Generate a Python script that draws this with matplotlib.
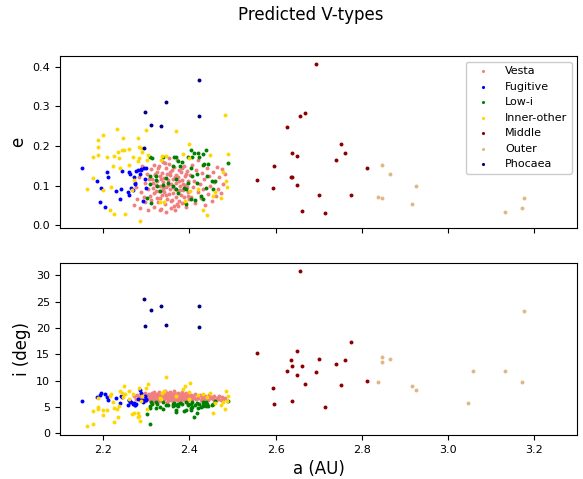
import numpy as np
import matplotlib
matplotlib.use('Agg')
import matplotlib.pyplot as plt

# semi-major axis a (AU), eccentricity e, inclination i (deg) for each group

vesta_a = [2.272, 2.276, 2.279, 2.283, 2.286, 2.289, 2.291, 2.294, 2.296, 2.298, 2.301, 2.303, 2.305, 2.307, 2.309,
           2.311, 2.312, 2.314, 2.315, 2.317, 2.318, 2.319, 2.321, 2.322, 2.324, 2.325, 2.326, 2.328, 2.329, 2.330,
           2.332, 2.333, 2.334, 2.336, 2.337, 2.338, 2.340, 2.341, 2.342, 2.344, 2.345, 2.346, 2.348, 2.349, 2.350,
           2.352, 2.353, 2.354, 2.356, 2.357, 2.358, 2.360, 2.361, 2.362, 2.364, 2.365, 2.366, 2.368, 2.369, 2.370,
           2.372, 2.373, 2.374, 2.376, 2.377, 2.378, 2.380, 2.381, 2.382, 2.384, 2.385, 2.387, 2.388, 2.390, 2.391,
           2.393, 2.394, 2.396, 2.397, 2.399,
           2.316, 2.320, 2.323, 2.327, 2.331, 2.335, 2.339, 2.343, 2.347, 2.351, 2.355, 2.359, 2.363, 2.367, 2.371,
           2.375, 2.379, 2.383, 2.386, 2.389, 2.392, 2.395, 2.398, 2.331, 2.345, 2.352, 2.358, 2.366, 2.374, 2.340,
           2.401, 2.404, 2.406, 2.409, 2.411, 2.414, 2.416, 2.419, 2.421, 2.424, 2.426, 2.429, 2.431, 2.434, 2.437,
           2.440, 2.443, 2.446, 2.449, 2.452, 2.455, 2.458, 2.461, 2.464, 2.467, 2.470, 2.473, 2.476, 2.479, 2.483]
vesta_e = [0.052, 0.098, 0.066, 0.122, 0.045, 0.085, 0.150, 0.072, 0.108, 0.058, 0.130, 0.092, 0.040, 0.118, 0.075,
           0.142, 0.064, 0.118, 0.095, 0.152, 0.081, 0.047, 0.128, 0.103, 0.070, 0.136, 0.112, 0.058, 0.149, 0.088,
           0.124, 0.099, 0.042, 0.133, 0.076, 0.161, 0.109, 0.084, 0.120, 0.053, 0.145, 0.097, 0.068, 0.131, 0.114,
           0.079, 0.156, 0.091, 0.126, 0.061, 0.105, 0.139, 0.083, 0.117, 0.050, 0.147, 0.093, 0.127, 0.072, 0.108,
           0.165, 0.087, 0.121, 0.062, 0.140, 0.100, 0.078, 0.134, 0.056, 0.115, 0.090, 0.150, 0.073, 0.125, 0.101,
           0.046, 0.137, 0.085, 0.111, 0.066,
           0.107, 0.130, 0.086, 0.144, 0.069, 0.116, 0.094, 0.158, 0.077, 0.102, 0.135, 0.065, 0.098, 0.122, 0.054,
           0.113, 0.089, 0.146, 0.104, 0.060, 0.129, 0.096, 0.074, 0.039, 0.035, 0.170, 0.044, 0.038, 0.048, 0.089,
           0.128, 0.071, 0.152, 0.096, 0.113, 0.057, 0.140, 0.085, 0.164, 0.104, 0.069, 0.133, 0.092, 0.117, 0.051,
           0.145, 0.080, 0.125, 0.099, 0.061, 0.136, 0.110, 0.074, 0.148, 0.093, 0.121, 0.083, 0.142, 0.105, 0.131]
vesta_i = [7.0, 6.6, 7.3, 6.9, 6.4, 7.5, 6.8, 7.1, 6.2, 7.7, 6.5, 7.2, 6.9, 7.4, 6.3,
           7.1, 6.5, 7.6, 6.9, 7.3, 6.2, 7.8, 6.7, 7.0, 6.4, 7.5, 6.8, 7.2, 6.1, 7.9,
           6.6, 7.4, 6.9, 7.0, 6.3, 7.7, 6.8, 7.1, 6.5, 8.1, 6.9, 7.3, 6.0, 7.6, 6.7,
           7.2, 6.4, 7.8, 6.9, 7.0, 6.6, 7.5, 6.2, 7.3, 6.8, 8.0, 6.5, 7.1, 6.9, 7.4,
           6.3, 7.7, 6.7, 7.0, 6.6, 7.5, 6.1, 7.2, 6.8, 7.9, 6.5, 7.1, 6.9, 7.4, 6.4,
           7.6, 6.7, 7.0, 6.3, 7.3,
           6.8, 7.2, 6.6, 7.4, 7.0, 6.9, 7.3, 6.7, 7.1, 6.5, 7.6, 6.9, 7.2, 6.8, 7.5,
           6.6, 7.0, 7.3, 6.7, 7.1, 6.9, 7.4, 6.6, 6.8, 7.0, 7.7, 6.4, 7.2, 6.9, 7.0,
           6.9, 7.3, 6.6, 7.1, 6.8, 7.4, 6.5, 7.0, 6.7, 7.2, 6.4, 6.9, 7.1, 6.6, 7.0,
           6.8, 6.3, 7.2, 6.7, 6.9, 6.5, 7.0, 6.4, 6.8, 6.6, 7.1, 6.3, 6.9, 6.5, 6.7]

fugitive_a = [2.152, 2.186, 2.192, 2.194, 2.205, 2.210, 2.212, 2.229, 2.239, 2.242,
              2.243, 2.257, 2.259, 2.261, 2.262, 2.265, 2.269, 2.271, 2.274, 2.274,
              2.277, 2.281, 2.285, 2.287, 2.289, 2.293, 2.294, 2.297, 2.300, 2.300]
fugitive_e = [0.144, 0.112, 0.059, 0.094, 0.046, 0.134, 0.123, 0.087, 0.068, 0.093,
              0.137, 0.085, 0.134, 0.077, 0.131, 0.094, 0.089, 0.123, 0.106, 0.104,
              0.137, 0.140, 0.130, 0.140, 0.142, 0.061, 0.145, 0.118, 0.145, 0.094]
fugitive_i = [6.1, 6.9, 7.2, 7.7, 7.4, 6.9, 6.4, 6.8, 5.8, 7.0,
              6.9, 5.4, 6.3, 6.4, 6.0, 5.9, 5.6, 5.8, 5.4, 5.3,
              5.6, 6.5, 8.3, 7.7, 6.4, 5.9, 6.3, 7.0, 6.3, 6.6]

lowi_a = [2.302, 2.308, 2.308, 2.308, 2.312, 2.313, 2.322, 2.323, 2.326, 2.332,
          2.338, 2.338, 2.347, 2.351, 2.362, 2.362, 2.364, 2.369, 2.370, 2.370,
          2.373, 2.374, 2.378, 2.382, 2.387, 2.393, 2.393, 2.396, 2.397, 2.403,
          2.405, 2.405, 2.407, 2.407, 2.411, 2.413, 2.417, 2.417, 2.419, 2.422,
          2.428, 2.431, 2.431, 2.432, 2.434, 2.438, 2.438, 2.441, 2.444, 2.452,
          2.454, 2.459, 2.489]
lowi_e = [0.069, 0.172, 0.104, 0.125, 0.057, 0.169, 0.114, 0.124, 0.100, 0.087,
          0.173, 0.101, 0.119, 0.107, 0.100, 0.149, 0.173, 0.117, 0.172, 0.091,
          0.083, 0.163, 0.149, 0.159, 0.094, 0.093, 0.053, 0.172, 0.108, 0.190,
          0.066, 0.146, 0.172, 0.125, 0.182, 0.063, 0.107, 0.129, 0.183, 0.172,
          0.074, 0.180, 0.152, 0.066, 0.156, 0.189, 0.095, 0.125, 0.155, 0.111,
          0.091, 0.111, 0.157]
lowi_i = [3.6, 4.9, 5.15, 1.75, 5.9, 5.66, 5.9, 4.9, 5.66, 5.0,
          4.7, 5.9, 5.4, 5.4, 5.15, 5.66, 5.8, 4.1, 5.4, 4.4,
          5.66, 5.15, 5.8, 5.5, 4.3, 4.5, 5.9, 5.4, 5.66, 4.9,
          4.4, 5.66, 5.9, 5.0, 3.1, 5.4, 5.8, 3.8, 4.9, 5.66,
          5.0, 5.15, 5.4, 5.9, 5.8, 5.15, 5.9, 5.5, 5.15, 5.4,
          5.66, 6.2, 6.1]

inner_a = [2.163, 2.176, 2.177, 2.187, 2.188, 2.189, 2.200, 2.200, 2.208, 2.217,
           2.218, 2.223, 2.225, 2.226, 2.233, 2.235, 2.237, 2.239, 2.244, 2.246,
           2.248, 2.251, 2.259, 2.259, 2.268, 2.269, 2.271, 2.280, 2.281, 2.283,
           2.284, 2.285, 2.287, 2.290, 2.300, 2.302, 2.304, 2.332, 2.335, 2.337,
           2.341, 2.347, 2.369, 2.386, 2.390, 2.399, 2.400, 2.401, 2.419, 2.432,
           2.440, 2.447, 2.454, 2.459, 2.473, 2.478, 2.482, 2.486, 2.488, 2.489]
inner_e = [0.093, 0.173, 0.119, 0.197, 0.216, 0.178, 0.227, 0.089, 0.173, 0.038,
           0.098, 0.150, 0.028, 0.176, 0.244, 0.184, 0.170, 0.145, 0.189, 0.221,
           0.190, 0.030, 0.192, 0.152, 0.090, 0.173, 0.114, 0.221, 0.162, 0.197,
           0.170, 0.011, 0.196, 0.184, 0.241, 0.165, 0.178, 0.059, 0.166, 0.175,
           0.058, 0.175, 0.239, 0.180, 0.062, 0.170, 0.206, 0.087, 0.091, 0.040,
           0.026, 0.178, 0.074, 0.085, 0.069, 0.136, 0.278, 0.112, 0.098, 0.180]
inner_i = [1.4, 4.2, 1.7, 5.0, 6.7, 4.6, 4.5, 3.4, 4.5, 7.1,
           7.4, 6.0, 4.8, 2.1, 4.6, 3.1, 5.2, 8.0, 7.7, 6.9,
           9.0, 7.5, 6.5, 8.0, 3.7, 7.5, 3.8, 3.9, 3.1, 8.7,
           3.3, 2.4, 6.2, 7.0, 8.6, 4.6, 9.4, 6.8, 6.5, 7.7,
           8.0, 10.7, 7.0, 8.5, 8.9, 6.6, 7.8, 9.5, 7.3, 7.5,
           6.9, 7.7, 3.9, 5.7, 5.4, 6.0, 4.6, 8.0, 6.2, 7.0]

middle_a = [2.693, 2.656, 2.669, 2.627, 2.751, 2.741, 2.761, 2.639, 2.650, 2.597,
            2.557, 2.636, 2.639, 2.650, 2.594, 2.700, 2.813, 2.776, 2.662, 2.714]
middle_e = [0.408, 0.276, 0.283, 0.249, 0.206, 0.165, 0.183, 0.183, 0.174, 0.149,
            0.114, 0.122, 0.122, 0.101, 0.095, 0.077, 0.145, 0.077, 0.037, 0.032]
middle_i = [11.6, 30.8, 9.4, 11.9, 9.2, 13.1, 14.0, 12.7, 15.7, 5.5,
            15.2, 14.0, 6.2, 11.0, 8.7, 14.1, 10.0, 17.4, 12.7, 5.0]

outer_a = [2.847, 2.847, 2.866, 2.925, 2.837, 2.917, 3.177, 3.171, 3.133, 3.047, 3.059]
outer_e = [0.152, 0.069, 0.129, 0.099, 0.072, 0.054, 0.069, 0.045, 0.035, 0.215, 0.245]
outer_i = [14.5, 13.5, 14.1, 8.2, 9.7, 9.0, 23.3, 9.7, 11.9, 5.8, 11.8]

phocaea_a = [2.294, 2.296, 2.311, 2.335, 2.345, 2.422, 2.422]
phocaea_e = [0.195, 0.287, 0.253, 0.251, 0.312, 0.366, 0.276]
phocaea_i = [25.6, 20.4, 23.4, 24.1, 20.5, 24.2, 20.1]

groups = [
    ('Vesta', 'lightcoral', vesta_a, vesta_e, vesta_i),
    ('Fugitive', 'blue', fugitive_a, fugitive_e, fugitive_i),
    ('Low-i', 'green', lowi_a, lowi_e, lowi_i),
    ('Inner-other', 'gold', inner_a, inner_e, inner_i),
    ('Middle', 'darkred', middle_a, middle_e, middle_i),
    ('Outer', 'burlywood', outer_a, outer_e, outer_i),
    ('Phocaea', 'navy', phocaea_a, phocaea_e, phocaea_i),
]

fig, (ax1, ax2) = plt.subplots(2, 1, sharex=True, figsize=(5.83, 4.79), dpi=100)
fig.subplots_adjust(left=0.103, right=0.99, top=0.883, bottom=0.092, hspace=0.2)

for name, col, a, e, inc in groups:
    ax1.scatter(a, e, s=8, c=col, linewidths=0, label=name)
    ax2.scatter(a, inc, s=8, c=col, linewidths=0)

ax1.set_ylabel('e', fontsize=12)
ax2.set_ylabel('i (deg)', fontsize=12)
ax2.set_xlabel('a (AU)', fontsize=12)

ax1.set_xlim(2.1, 3.3)
ax1.set_ylim(-0.007, 0.427)
ax2.set_ylim(-0.3, 32.4)
ax2.set_xticks([2.2, 2.4, 2.6, 2.8, 3.0, 3.2])
ax1.set_yticks([0.0, 0.1, 0.2, 0.3, 0.4])
ax2.set_yticks([0, 5, 10, 15, 20, 25, 30])
for ax in (ax1, ax2):
    ax.tick_params(labelsize=8)

leg = ax1.legend(loc='upper right', fontsize=8, markerscale=0.8, handlelength=2.3,
                 framealpha=1.0)
leg.set_zorder(5)
fig.suptitle('Predicted V-types', x=0.533, y=0.988, fontsize=12)

fig.savefig('out.png', dpi=100)
